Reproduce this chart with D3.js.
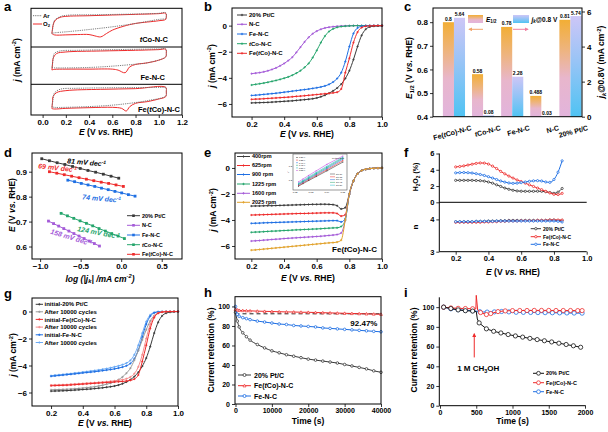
<!DOCTYPE html>
<html><head><meta charset="utf-8">
<script src="https://cdn.jsdelivr.net/npm/d3@7/dist/d3.min.js"></script>
<style>html,body{margin:0;padding:0;background:#fff}svg{display:block}</style>
</head><body>
<svg id="fig" width="608" height="432" xmlns="http://www.w3.org/2000/svg"></svg>
<script>
// ================= DATA =================
// (a) CV loops (potential V, current in arbitrary units of each sub-panel)
const aNames = ['tCo-N-C','Fe-N-C','Fe(tCo)-N-C'];
const aTicks = [0.0,0.2,0.4,0.6,0.8,1.0,1.2];
const cvE_tCo_O2 = [0.08,0.085,0.09,0.11,0.15,0.2,0.4,0.6,0.8,1.0,1.06,1.065,1.06,1.0,0.8,0.7,0.6,0.55,0.5,0.45,0.4,0.3,0.2,0.1,0.08];
const cvJ_tCo_O2 = [-0.91,-0.2,0.39,1.17,1.59,1.75,1.85,1.96,2.06,2.17,2.22,1.6,1.28,1.07,0.65,0.23,-0.39,-0.91,-1.43,-1.28,-1.07,-1.07,-1.12,-1.12,-0.91];
const cvE_tCo_Ar = [0.08,0.09,0.1,0.15,0.2,0.5,1.0,1.06,1.065,1.06,1.0,0.8,0.6,0.4,0.2,0.1,0.08];
const cvJ_tCo_Ar = [-0.91,0.2,1.07,1.7,1.9,2.01,2.22,2.32,1.8,1.43,1.28,0.65,0.13,-0.29,-0.65,-0.81,-0.91];
const cvE_Fe_O2 = [0.08,0.085,0.09,0.12,0.2,0.5,0.8,1.0,1.06,1.065,1.06,1.0,0.9,0.8,0.75,0.71,0.65,0.6,0.4,0.2,0.1,0.08];
const cvJ_Fe_O2 = [-0.7,0.2,1.14,1.94,2.2,2.36,2.47,2.58,2.63,2.0,1.41,0.88,0.45,0.19,-0.19,-1.14,-0.72,-0.56,-0.56,-0.56,-0.6,-0.7];
const cvE_Fe_Ar = [0.08,0.09,0.1,0.15,0.3,1.0,1.06,1.065,1.06,0.9,0.8,0.6,0.4,0.1,0.08];
const cvJ_Fe_Ar = [-0.3,0.9,1.94,2.36,2.47,2.68,2.7,2.0,1.41,0.45,0.24,-0.08,-0.29,-0.35,-0.3];
const cvE_FeCo_O2 = [0.08,0.085,0.09,0.12,0.2,0.5,0.8,1.06,1.065,1.06,1.0,0.9,0.8,0.75,0.72,0.68,0.6,0.4,0.2,0.1,0.08];
const cvJ_FeCo_O2 = [-1.75,-0.5,0.59,1.37,1.76,2.02,2.15,2.41,1.5,0.59,0.13,-0.39,-0.72,-1.37,-2.22,-1.7,-1.5,-1.57,-1.7,-1.83,-1.75];
const cvE_FeCo_Ar = [0.08,0.09,0.1,0.15,0.3,1.05,1.06,1.065,1.06,0.9,0.7,0.5,0.2,0.1,0.08];
const cvJ_FeCo_Ar = [-1.4,0.0,1.24,2.02,2.22,2.41,2.42,1.6,0.72,-0.2,-0.85,-1.24,-1.5,-1.5,-1.4];

// shared potential grid for LSV curves (b, e, g)
const lsvE = [0.2,0.225,0.25,0.275,0.3,0.325,0.35,0.375,0.4,0.425,0.45,0.475,0.5,0.525,0.55,0.575,0.6,0.625,0.65,0.675,0.7,0.725,0.75,0.775,0.8,0.825,0.85,0.875,0.9,0.925,0.95,0.975,1.0];
const eTicks = [0.2,0.4,0.6,0.8,1.0];

// (b) LSV at 1600 rpm
const bNames = ['20% Pt/C','N-C','Fe-N-C','tCo-N-C','Fe(tCo)-N-C'];
const bPt   = [-5.92,-5.91,-5.9,-5.89,-5.88,-5.86,-5.84,-5.82,-5.8,-5.78,-5.76,-5.73,-5.7,-5.67,-5.64,-5.6,-5.54,-5.45,-5.33,-5.18,-5.0,-4.78,-4.48,-4.05,-3.45,-2.6,-1.6,-0.75,-0.28,-0.1,-0.04,-0.02,-0.01];
const bNC   = [-3.68,-3.64,-3.6,-3.54,-3.46,-3.36,-3.24,-3.08,-2.9,-2.68,-2.42,-2.05,-1.65,-1.25,-0.9,-0.62,-0.42,-0.28,-0.18,-0.12,-0.08,-0.05,-0.03,-0.02,-0.01,0,0,0,0,0,0,0,0];
const bFeNC = [-5.35,-5.33,-5.3,-5.27,-5.24,-5.21,-5.18,-5.14,-5.1,-5.06,-5.02,-4.98,-4.94,-4.9,-4.86,-4.81,-4.76,-4.7,-4.62,-4.5,-4.32,-4.05,-3.6,-2.75,-1.6,-0.6,-0.18,-0.05,-0.02,-0.01,0,0,0];
const btCo  = [-4.55,-4.5,-4.45,-4.4,-4.34,-4.27,-4.2,-4.12,-4.03,-3.93,-3.8,-3.64,-3.45,-3.2,-2.9,-2.45,-1.9,-1.3,-0.8,-0.45,-0.25,-0.13,-0.07,-0.04,-0.02,-0.01,0,0,0,0,0,0,0];
const bFeCo = [-5.65,-5.63,-5.62,-5.6,-5.58,-5.56,-5.54,-5.52,-5.5,-5.48,-5.45,-5.42,-5.4,-5.37,-5.34,-5.31,-5.28,-5.25,-5.22,-5.19,-5.15,-5.1,-4.85,-3.6,-2.5,-1.3,-0.5,-0.15,-0.05,-0.02,-0.01,0,0];
const bYTicks = [-6,-4,-2,0];

// (c) bars
const cCats = ['Fe(tCo)-N-C','tCo-N-C','Fe-N-C','N-C','20% Pt/C'];
const cE12 = [0.8,0.58,0.78,0.488,0.81];
const cJk  = [5.64,0.08,2.28,0.03,5.74];
const cLTicks = [0.4,0.5,0.6,0.7,0.8];
const cRTicks = [0,2,4,6];

// (d) Tafel
const dNames = ['20% Pt/C','N-C','Fe-N-C','tCo-N-C','Fe(tCo)-N-C'];
const dPtX = [-0.98,-0.885,-0.79,-0.695,-0.6,-0.505,-0.41,-0.315,-0.22,-0.125,-0.03];
const dPtY = [0.952,0.944,0.936,0.929,0.921,0.913,0.905,0.898,0.890,0.882,0.874];
const dNCX = [-0.897,-0.834,-0.771,-0.708,-0.645,-0.583,-0.520,-0.457,-0.394,-0.331,-0.268];
const dNCY = [0.702,0.692,0.682,0.672,0.662,0.652,0.642,0.632,0.622,0.612,0.602];
const dFeX = [-0.658,-0.575,-0.492,-0.409,-0.326,-0.243,-0.160,-0.077,0.006,0.089,0.171];
const dFeY = [0.866,0.860,0.853,0.847,0.841,0.834,0.828,0.821,0.815,0.808,0.802];
const dCoX = [-0.741,-0.663,-0.585,-0.507,-0.429,-0.351,-0.273,-0.195,-0.117,-0.039,0.040];
const dCoY = [0.733,0.723,0.713,0.703,0.693,0.683,0.672,0.662,0.652,0.642,0.632];
const dFeCoX = [-0.885,-0.794,-0.702,-0.611,-0.520,-0.429,-0.338,-0.246,-0.155,-0.064,0.027];
const dFeCoY = [0.900,0.894,0.888,0.882,0.876,0.870,0.864,0.858,0.853,0.847,0.841];
const dSlopes = ['81','158','74','124','69'];
const dXTicks = [-1.0,-0.5,0.0,0.5];
const dYTicks = [0.6,0.7,0.8,0.9];

// (e) rotating speeds
const eNames = ['400rpm','625rpm','900 rpm','1225 rpm','1600 rpm','2025 rpm'];
const e400  = [-2.93,-2.92,-2.92,-2.91,-2.9,-2.9,-2.89,-2.88,-2.87,-2.86,-2.85,-2.84,-2.83,-2.82,-2.81,-2.8,-2.8,-2.79,-2.79,-2.8,-2.82,-2.9,-3.15,-3.05,-2.0,-1.0,-0.45,-0.2,-0.1,-0.05,-0.02,-0.01,0];
const e625  = [-3.62,-3.61,-3.6,-3.59,-3.58,-3.57,-3.56,-3.55,-3.54,-3.53,-3.52,-3.51,-3.5,-3.5,-3.49,-3.48,-3.47,-3.46,-3.45,-3.45,-3.45,-3.5,-3.7,-3.6,-2.0,-1.0,-0.45,-0.2,-0.1,-0.05,-0.02,-0.01,0];
const e900  = [-4.26,-4.25,-4.24,-4.22,-4.21,-4.2,-4.19,-4.18,-4.17,-4.16,-4.15,-4.14,-4.13,-4.12,-4.11,-4.1,-4.09,-4.08,-4.07,-4.06,-4.05,-4.05,-4.15,-3.9,-2.0,-1.0,-0.45,-0.2,-0.1,-0.05,-0.02,-0.01,0];
const e1225 = [-4.95,-4.93,-4.92,-4.9,-4.88,-4.86,-4.85,-4.83,-4.81,-4.8,-4.78,-4.76,-4.75,-4.73,-4.72,-4.7,-4.69,-4.67,-4.65,-4.63,-4.61,-4.6,-4.5,-4.0,-2.0,-1.0,-0.45,-0.2,-0.1,-0.05,-0.02,-0.01,0];
const e1600 = [-5.62,-5.6,-5.58,-5.55,-5.53,-5.5,-5.48,-5.46,-5.43,-5.41,-5.39,-5.37,-5.35,-5.33,-5.31,-5.29,-5.27,-5.25,-5.22,-5.19,-5.16,-5.12,-5.0,-4.0,-2.0,-1.0,-0.45,-0.2,-0.1,-0.05,-0.02,-0.01,0];
const e2025 = [-6.32,-6.3,-6.27,-6.24,-6.21,-6.18,-6.15,-6.12,-6.09,-6.06,-6.03,-6.0,-5.97,-5.94,-5.91,-5.88,-5.85,-5.82,-5.79,-5.76,-5.74,-5.7,-5.55,-4.0,-2.0,-1.0,-0.45,-0.2,-0.1,-0.05,-0.02,-0.01,0];
// (e) inset K-L lines
const klX = [0.0222,0.025,0.0286,0.0333,0.04,0.05];
const kl1 = [0.160,0.178,0.200,0.228,0.268,0.330];
const kl2 = [0.165,0.183,0.206,0.235,0.276,0.340];
const kl3 = [0.170,0.189,0.212,0.242,0.284,0.350];
const kl4 = [0.175,0.194,0.218,0.249,0.292,0.358];
const kl5 = [0.181,0.200,0.225,0.256,0.300,0.364];
const kl6 = [0.190,0.210,0.236,0.268,0.314,0.372];
const klNames = ['0.30','0.35','0.40','0.45','0.50','0.55'];
const klTicks = [0.02,0.03,0.04,0.05];

// (f) RRDE
const fE = [0.2,0.225,0.25,0.275,0.3,0.325,0.35,0.375,0.4,0.425,0.45,0.475,0.5,0.525,0.55,0.575,0.6,0.625,0.65,0.675,0.7,0.725,0.75,0.775,0.8,0.825,0.85];
const fNames = ['20% Pt/C','Fe(tCo)-N-C','Fe-N-C'];
const fHPt   = [2.7,2.7,2.7,2.7,2.7,2.68,2.66,2.6,2.5,2.35,2.15,1.95,1.75,1.6,1.48,1.4,1.36,1.35,1.35,1.35,1.36,1.35,1.3,1.2,1.1,1.25,1.7];
const fHFeCo = [4.35,4.4,4.48,4.58,4.68,4.78,4.84,4.82,4.7,4.45,4.15,3.8,3.5,3.22,2.98,2.75,2.55,2.35,2.15,1.95,1.75,1.55,1.35,1.15,0.98,0.95,1.1];
const fHFe   = [3.62,3.65,3.66,3.64,3.6,3.52,3.42,3.3,3.15,2.98,2.8,2.62,2.48,2.38,2.33,2.35,2.42,2.5,2.58,2.64,2.66,2.62,2.5,2.45,2.8,3.7,5.1];
const fNPt   = [3.93,3.93,3.93,3.93,3.93,3.94,3.94,3.94,3.95,3.95,3.95,3.96,3.96,3.97,3.97,3.97,3.97,3.97,3.97,3.97,3.97,3.97,3.97,3.98,3.98,3.97,3.97];
const fNFeCo = [3.91,3.91,3.91,3.91,3.91,3.91,3.91,3.92,3.92,3.93,3.93,3.94,3.94,3.95,3.95,3.95,3.96,3.96,3.96,3.96,3.97,3.97,3.97,3.98,3.98,3.98,3.98];
const fNFe   = [3.93,3.93,3.93,3.93,3.93,3.94,3.94,3.94,3.94,3.94,3.95,3.95,3.95,3.95,3.95,3.95,3.95,3.95,3.95,3.95,3.95,3.95,3.95,3.95,3.95,3.94,3.92];
const fHTicks = [0,2,4,6];
const fNTicks = [3,4];

// (g) durability LSV
const gNames = ['initial-20% Pt/C','After 10000 cycles','initial-Fe(tCo)-N-C','After 10000 cycles','initial-Fe-N-C','After 10000 cycles'];
const gPtI   = [-5.9,-5.89,-5.88,-5.87,-5.86,-5.84,-5.82,-5.8,-5.78,-5.76,-5.74,-5.71,-5.68,-5.65,-5.61,-5.57,-5.52,-5.45,-5.35,-5.22,-5.05,-4.82,-4.5,-4.05,-3.45,-2.6,-1.6,-0.8,-0.32,-0.12,-0.05,-0.02,-0.01];
const gPtA   = [-5.8,-5.79,-5.78,-5.77,-5.76,-5.74,-5.72,-5.7,-5.67,-5.64,-5.61,-5.57,-5.52,-5.46,-5.39,-5.31,-5.2,-5.05,-4.85,-4.57,-4.2,-3.6,-2.9,-2.1,-1.35,-0.7,-0.3,-0.1,-0.04,-0.02,-0.01,0,0];
const gFeCoI = [-5.5,-5.49,-5.48,-5.47,-5.46,-5.44,-5.42,-5.4,-5.38,-5.36,-5.34,-5.32,-5.3,-5.28,-5.26,-5.24,-5.22,-5.2,-5.18,-5.15,-5.1,-5.0,-4.7,-3.7,-2.5,-1.25,-0.45,-0.13,-0.04,-0.01,0,0,0];
const gFeCoA = [-5.45,-5.44,-5.43,-5.42,-5.41,-5.39,-5.37,-5.35,-5.33,-5.31,-5.29,-5.27,-5.25,-5.23,-5.2,-5.17,-5.14,-5.1,-5.05,-4.98,-4.85,-4.6,-4.1,-3.2,-2.0,-0.95,-0.35,-0.1,-0.03,-0.01,0,0,0];
const gFeI   = [-4.8,-4.77,-4.74,-4.71,-4.68,-4.65,-4.62,-4.59,-4.55,-4.52,-4.49,-4.46,-4.42,-4.38,-4.34,-4.3,-4.25,-4.19,-4.12,-4.02,-3.85,-3.5,-2.85,-1.9,-0.95,-0.35,-0.1,-0.03,-0.01,0,0,0,0];
const gFeA   = [-4.75,-4.72,-4.69,-4.66,-4.63,-4.6,-4.56,-4.53,-4.49,-4.45,-4.41,-4.37,-4.33,-4.28,-4.23,-4.17,-4.1,-4.03,-3.94,-3.82,-3.62,-3.2,-2.5,-1.6,-0.75,-0.25,-0.07,-0.02,0,0,0,0,0];

// (h) chronoamperometry
const hNames = ['20% Pt/C','Fe(tCo)-N-C','Fe-N-C'];
const hT    = [0,500,1000,2000,3000,4000,6000,8000,10000,12000,14000,16000,18000,20000,22000,24000,26000,28000,30000,32000,34000,36000,38000,40000];
const hPt   = [94,85,79,73,69,65.5,61,57.5,54.5,52.5,50.5,49,47.5,46,45,44,43,42,40.5,39,37.5,36,34,32.5];
const hFeCo = [97,96.5,96,95.8,95.6,95.5,95.2,95,94.8,94.6,94.4,94.3,94.1,94,93.8,93.6,93.4,93.2,93,92.8,92.6,92.4,92.2,92];
const hFe   = [100,92,90,88.5,87.5,86.5,85,84,83,82,81.5,80.5,80,79.5,79,78,77.5,77,76.5,76,75.5,75,74.5,74];
const hRetention = 92.47;
const hXTicks = [0,10000,20000,30000,40000];
const retTicks = [0,20,40,60,80,100];

// (i) methanol tolerance
const iNames = ['20% Pt/C','Fe(tCo)-N-C','Fe-N-C'];
const iTPt   = [50,150,250,350,450,500,515,540,640,740,840,940,1040,1140,1240,1340,1440,1540,1640,1740,1840,1940];
const iPt    = [100,98.6,97.2,96.4,96,95.6,88,84,78,75.5,73.8,72.2,70.8,69.6,68.3,67.1,65.9,64.7,63.4,62.1,60.8,59.3];
const iTFeCo = [50,150,250,350,450,495,500,520,560,640,700,800,900,1000,1100,1200,1300,1400,1500,1600,1700,1800,1900,1960];
const iFeCo  = [100,99.2,98.8,98.6,98.4,98.2,112,97,94.5,92.5,93.5,95.5,96.2,96.5,96.6,96.6,96.7,96.7,96.7,96.6,96.6,96.6,96.5,96.5];
const iTFe   = [50,150,250,350,450,550,650,750,850,950,1050,1150,1250,1350,1450,1550,1650,1750,1850,1960];
const iFe    = [100,98.3,97.4,96.9,96.4,95.4,95,95.2,95.6,95.2,94.8,94.7,94.6,94.5,94.4,94.3,94.2,94.1,94,93.9];
const iInject = 500;
const iXTicks = [0,500,1000,1500,2000];

// ================= HELPERS =================
const FF = "'Liberation Sans', Arial, Helvetica, sans-serif";
const C = {k:'#3a3a3a', r:'#ee2b2b', b:'#1e6fe3', g:'#25a56c', p:'#a45bd8', o:'#e2a22b',
           kL:'#9a9a9a', rL:'#f58a8a', bL:'#6aaaf5', cy:'#22b8c8'};
const svg = d3.select('#fig').attr('font-family', FF);
const defs = svg.append('defs');

function rich(t, parts, fs){
  let shift = 0;
  parts.forEach(p => {
    const s = (typeof p === 'string') ? [p, ''] : p;
    const ts = t.append('tspan').text(s[0]);
    const f = s[1];
    let target = 0;
    if (f.includes('^')) target = -0.38*fs;
    else if (f.includes('_')) target = 0.22*fs;
    if (target !== shift) { ts.attr('dy', (target - shift).toFixed(2)); shift = target; }
    if (f.includes('^') || f.includes('_')) ts.attr('font-size', (fs*0.68).toFixed(2));
    if (f.includes('i')) ts.attr('font-style', 'italic');
  });
}
function txt(g, x, y, parts, fs, o = {}){
  const t = g.append('text').attr('x', x).attr('y', y).attr('font-size', fs)
    .attr('font-weight', o.weight || 'bold').attr('fill', o.fill || '#000')
    .attr('text-anchor', o.anchor || 'start').style('white-space', 'pre');
  if (o.italic) t.attr('font-style', 'italic');
  if (o.rot != null) t.attr('transform', `rotate(${o.rot},${x},${y})`);
  rich(t, typeof parts === 'string' ? [parts] : parts, fs);
  return t;
}
function tco(s){
  const segs = s.split('tCo'); const out = [];
  segs.forEach((seg, i) => { if (i > 0) { out.push(['t','i']); out.push('Co'); } if (seg) out.push(seg); });
  return out;
}
function styleAxis(a, fs){
  a.attr('font-family', FF).attr('font-size', fs).attr('font-weight', 'bold');
  a.select('.domain').remove();
  a.selectAll('.tick line').attr('stroke', '#000').attr('stroke-width', 0.8);
  a.selectAll('.tick text').attr('fill', '#000');
  return a;
}
function axisB(g, sc, y, vals, fmt, fs = 8){
  return styleAxis(g.append('g').attr('transform', `translate(0,${y})`)
    .call(d3.axisBottom(sc).tickValues(vals).tickFormat(fmt).tickSize(3).tickPadding(1)), fs);
}
function axisL(g, sc, x, vals, fmt, fs = 8){
  return styleAxis(g.append('g').attr('transform', `translate(${x},0)`)
    .call(d3.axisLeft(sc).tickValues(vals).tickFormat(fmt).tickSize(3).tickPadding(2)), fs);
}
function axisR(g, sc, x, vals, fmt, fs = 8){
  return styleAxis(g.append('g').attr('transform', `translate(${x},0)`)
    .call(d3.axisRight(sc).tickValues(vals).tickFormat(fmt).tickSize(3).tickPadding(2)), fs);
}
function frame(g, sx, sy){
  const [x0, x1] = sx.range(), [y1, y0] = sy.range();
  g.append('rect').attr('x', x0).attr('y', y0).attr('width', x1 - x0).attr('height', y1 - y0)
    .attr('fill', 'none').attr('stroke', '#000').attr('stroke-width', 1);
}
function marks(g, pts, type, color, s, fill){
  const m = g.append('g');
  pts.forEach(([x, y]) => {
    if (type === 'plus') m.append('path').attr('d', `M${x-s},${y}H${x+s}M${x},${y-s}V${y+s}`)
      .attr('stroke', color).attr('stroke-width', 0.8).attr('fill', 'none');
    else if (type === 'square') m.append('rect').attr('x', x-s).attr('y', y-s).attr('width', 2*s).attr('height', 2*s).attr('fill', color);
    else if (type === 'circle') m.append('circle').attr('cx', x).attr('cy', y).attr('r', s)
      .attr('fill', fill || '#fff').attr('stroke', color).attr('stroke-width', 0.8);
    else if (type === 'tri') m.append('path').attr('d', `M${x},${y-s}L${x+s},${y+s*0.8}L${x-s},${y+s*0.8}Z`)
      .attr('fill', fill || '#fff').attr('stroke', color).attr('stroke-width', 0.7);
  });
}
function plot(g, xs, ys, sx, sy, color, o = {}){
  const pts = xs.map((v, i) => [sx(v), sy(ys[i])]);
  g.append('path').attr('d', d3.line().curve(o.curve || d3.curveMonotoneX)(pts))
    .attr('fill', 'none').attr('stroke', color).attr('stroke-width', o.w || 1)
    .attr('stroke-dasharray', o.dash || null).attr('stroke-linejoin', 'round');
  if (o.marker) marks(g, pts.filter((p, i) => !(o.skip || []).includes(i)), o.marker, color, o.ms || 1.3, o.mfill);
}
function legRow(g, x1, x2, y, color, type, parts, fs, o = {}){
  g.append('line').attr('x1', x1).attr('x2', x2).attr('y1', y).attr('y2', y)
    .attr('stroke', color).attr('stroke-width', o.w || 1).attr('stroke-dasharray', o.dash || null);
  if (type) marks(g, [[(x1 + x2)/2, y]], type, color, o.ms || 1.4, o.mfill);
  txt(g, x2 + (o.gap || 2), y + fs*0.36, parts, fs);
}
function arrowDef(id, color){
  defs.append('marker').attr('id', id).attr('viewBox', '0 0 10 10').attr('refX', 8).attr('refY', 5)
    .attr('markerWidth', 4).attr('markerHeight', 4).attr('orient', 'auto-start-reverse')
    .append('path').attr('d', 'M0,0L10,5L0,10z').attr('fill', color);
}
arrowDef('arrO', '#f2a46a'); arrowDef('arrP', '#f07fa0'); arrowDef('arrR', C.r);
function panelLabel(x, y, s){ txt(svg, x, y, s, 13); }
const yTitleE = [['E','i'],' (V ',['vs.','i'],' RHE)'];
const jTitle = [['j','i'],' (mA cm',['-2','^'],')'];
const f1 = d3.format('.1f'), fd = d3.format('d');

// ================= (a) =================
{
  const g = svg.append('g');
  const x = d3.scaleLinear().domain([-0.1, 1.2]).range([31, 182]);
  const bands = [[8.3, 47], [47, 84.3], [84.3, 115]];
  const sets = [[cvE_tCo_Ar, cvJ_tCo_Ar, cvE_tCo_O2, cvJ_tCo_O2],
                [cvE_Fe_Ar, cvJ_Fe_Ar, cvE_Fe_O2, cvJ_Fe_O2],
                [cvE_FeCo_Ar, cvJ_FeCo_Ar, cvE_FeCo_O2, cvJ_FeCo_O2]];
  const labY = [41.5, 80, 111.5], labX = [168, 165, 180];
  sets.forEach((s, i) => {
    const y = d3.scaleLinear().domain([-3, 3]).range([bands[i][1], bands[i][0]]);
    const cr = d3.curveCatmullRom.alpha(0.5);
    plot(g, s[2], s[3], x, y, C.r, {curve: cr, w: 1});
    plot(g, s[0], s[1], x, y, '#6e6e6e', {curve: cr, w: 0.9, dash: '1.2,1'});
    txt(g, labX[i], labY[i], tco(aNames[i]), 7.5, {anchor: 'end'});
    if (i > 0) g.append('line').attr('x1', 31).attr('x2', 182).attr('y1', bands[i][0]).attr('y2', bands[i][0]).attr('stroke', '#000');
  });
  frame(g, x, d3.scaleLinear().range([115, 8.3]));
  axisB(g, x, 115, aTicks, f1, 8);
  legRow(g, 33, 42, 15.7, '#6e6e6e', null, 'Ar', 6, {dash: '1.2,1', gap: 1});
  legRow(g, 33, 42, 24, C.r, null, ['O', ['2', '_']], 6, {gap: 1});
  txt(g, 19.5, 60, jTitle, 8.5, {anchor: 'middle', rot: -90});
  txt(g, 106, 135, yTitleE, 8.5, {anchor: 'middle'});
  panelLabel(4, 10.5, 'a');
}

// ================= (b) =================
{
  const g = svg.append('g');
  const x = d3.scaleLinear().domain([0.08, 1.0]).range([232, 382]);
  const y = d3.scaleLinear().domain([-7, 1.35]).range([117, 8]);
  const ser = [[bPt, C.k], [bNC, C.p], [bFeNC, C.b], [btCo, C.g], [bFeCo, C.r]];
  [1, 3, 2, 0, 4].forEach(i => plot(g, lsvE, ser[i][0], x, y, ser[i][1], {marker: 'plus', ms: 1.1}));
  frame(g, x, y);
  axisB(g, x, 117, eTicks, f1, 8);
  axisL(g, y, 232, bYTicks, fd, 8);
  const rows = [15, 24.3, 34, 43.7, 53.3];
  bNames.forEach((n, i) => legRow(g, 237, 247, rows[i], ser[i][1], 'plus', tco(n), 6, {ms: 1.2}));
  txt(g, 214.5, 66, jTitle, 8.5, {anchor: 'middle', rot: -90});
  txt(g, 307, 137, yTitleE, 8.5, {anchor: 'middle'});
  panelLabel(204, 10.5, 'b');
}

// ================= (c) =================
{
  const g = svg.append('g');
  const gE = defs.append('linearGradient').attr('id', 'gE').attr('x1', 0).attr('y1', 0).attr('x2', 0).attr('y2', 1);
  [[0, '#f2ae35'], [0.3, '#eeb47c'], [0.6, '#e8b6cc'], [1, '#e2b4dc']].forEach(s => gE.append('stop').attr('offset', s[0]).attr('stop-color', s[1]));
  const gJ = defs.append('linearGradient').attr('id', 'gJ').attr('x1', 0).attr('y1', 0).attr('x2', 0).attr('y2', 1);
  [[0, '#cdc6f7'], [0.45, '#98c4f6'], [1, '#4fc3f3']].forEach(s => gJ.append('stop').attr('offset', s[0]).attr('stop-color', s[1]));
  const xb = d3.scaleBand().domain(cCats).range([439.4, 585]).paddingInner(0.24).paddingOuter(0.12);
  const xs = d3.scaleBand().domain(['E', 'J']).range([0, xb.bandwidth()]);
  const yL = d3.scaleLinear().domain([0.4, 0.86]).range([116.7, 8]);
  const yR = d3.scaleLinear().domain([0, 6.2]).range([116.7, 8]);
  cCats.forEach((c, i) => {
    const xe = xb(c) + xs('E'), xj = xb(c) + xs('J'), w = xs.bandwidth();
    g.append('rect').attr('x', xe).attr('y', yL(cE12[i])).attr('width', w).attr('height', yL(0.4) - yL(cE12[i])).attr('fill', 'url(#gE)');
    g.append('rect').attr('x', xj).attr('y', yR(cJk[i])).attr('width', w).attr('height', Math.max(0.6, yR(0) - yR(cJk[i]))).attr('fill', 'url(#gJ)');
    txt(g, xe + w/2, yL(cE12[i]) - 1.5, String(cE12[i]), 5, {anchor: 'middle'});
    txt(g, xj + w/2, yR(cJk[i]) - 1.5, String(cJk[i]), 5, {anchor: 'middle'});
    txt(g, xb(c) + xb.bandwidth()/2 + 18, 130, tco(c), 7, {anchor: 'end', rot: -15});
  });
  g.append('rect').attr('x', 433).attr('y', 8).attr('width', 149).attr('height', 108.7).attr('fill', 'none').attr('stroke', '#000');
  axisL(g, yL, 433, cLTicks, f1, 8);
  axisR(g, yR, 582, cRTicks, fd, 8);
  // legend
  g.append('rect').attr('x', 468).attr('y', 15).attr('width', 15).attr('height', 8).attr('fill', 'url(#gE)');
  txt(g, 486, 21.5, [['E', 'i'], ['1/2', '_']], 6.5);
  g.append('rect').attr('x', 513).attr('y', 15).attr('width', 16).attr('height', 8).attr('fill', 'url(#gJ)');
  txt(g, 531.5, 21.5, [['j', 'i'], ['k', '_i'], '@0.8 V'], 6.5);
  g.append('line').attr('x1', 483).attr('x2', 469).attr('y1', 29.3).attr('y2', 29.3).attr('stroke', '#f2a46a').attr('marker-end', 'url(#arrO)');
  g.append('line').attr('x1', 513).attr('x2', 528).attr('y1', 29.3).attr('y2', 29.3).attr('stroke', '#f07fa0').attr('marker-end', 'url(#arrP)');
  txt(g, 412, 68, [['E', 'i'], ['1/2', '_'], ' (V ', ['vs.', 'i'], ' RHE)'], 8.5, {anchor: 'middle', rot: -90});
  txt(g, 604, 62, [['j', 'i'], ['k', '_i'], '@0.8V (mA cm', ['-2', '^'], ')'], 8.5, {anchor: 'middle', rot: -90});
  panelLabel(404, 10.5, 'c');
}

// ================= (d) =================
{
  const g = svg.append('g');
  const x = d3.scaleLinear().domain([-1.1, 0.75]).range([32, 182]);
  const y = d3.scaleLinear().domain([0.55, 0.975]).range([259, 153]);
  const ser = [[dPtX, dPtY, C.k], [dNCX, dNCY, C.p], [dFeX, dFeY, C.b], [dCoX, dCoY, C.g], [dFeCoX, dFeCoY, C.r]];
  ser.forEach(s => plot(g, s[0], s[1], x, y, s[2], {curve: d3.curveLinear, marker: 'square', ms: 1.4}));
  frame(g, x, y);
  axisB(g, x, 259, dXTicks, f1, 8);
  axisL(g, y, 32, dYTicks, f1, 8);
  const rows = [215.7, 225.3, 235, 244.7, 254.3];
  dNames.forEach((n, i) => legRow(g, 127, 140, rows[i], ser[i][2], 'square', tco(n), 5.5, {ms: 1.3}));
  const sl = (v) => [v + ' mV dec', ['-1', '^']];
  txt(g, 67, 163.2, sl(dSlopes[0]), 7, {rot: 5, italic: true});
  txt(g, 38, 168.3, sl(dSlopes[4]), 7, {rot: 6, italic: true, fill: C.r});
  txt(g, 82, 199.3, sl(dSlopes[2]), 7, {rot: 5, italic: true, fill: C.b});
  txt(g, 77, 231, sl(dSlopes[3]), 7, {rot: 11, italic: true, fill: C.g});
  txt(g, 50, 233.5, sl(dSlopes[1]), 7, {rot: 17, italic: true, fill: C.p});
  txt(g, 15, 205, yTitleE, 8.5, {anchor: 'middle', rot: -90});
  txt(g, 100, 281.5, [['log (|', 'i'], ['j', 'i'], ['k', '_i'], ['| /mA cm', 'i'], ['-2', '^i'], [')', 'i']], 8.5, {anchor: 'middle'});
  panelLabel(4, 157, 'd');
}

// ================= (e) =================
{
  const g = svg.append('g');
  const x = d3.scaleLinear().domain([0.1, 1.0]).range([235, 382]);
  const y = d3.scaleLinear().domain([-7, 1.15]).range([259, 153]);
  const ser = [[e400, C.k], [e625, C.r], [e900, C.b], [e1225, C.g], [e1600, C.p], [e2025, C.o]];
  ser.forEach(s => plot(g, lsvE, s[0], x, y, s[1], {marker: 'plus', ms: 1.1}));
  frame(g, x, y);
  axisB(g, x, 259, eTicks, f1, 8);
  axisL(g, y, 235, bYTicks, fd, 8);
  const rows = [156.5, 165.5, 174.5, 184, 193.3, 202.3];
  eNames.forEach((n, i) => legRow(g, 237, 250, rows[i], ser[i][1], 'plus', n, 5.5, {ms: 1.2}));
  // inset
  const ix = d3.scaleLinear().domain([0.02, 0.052]).range([295, 346]);
  const iy = d3.scaleLinear().domain([0.14, 0.38]).range([189, 155]);
  g.append('rect').attr('x', 293).attr('y', 154).attr('width', 54).attr('height', 36).attr('fill', '#fff').attr('stroke', '#555').attr('stroke-width', 0.6);
  const kls = [[kl1, C.k], [kl2, C.r], [kl3, C.b], [kl4, C.g], [kl5, C.cy], [kl6, '#c04fe0']];
  kls.forEach(s => plot(g, klX, s[0], ix, iy, s[1], {curve: d3.curveLinear, w: 0.6, marker: 'square', ms: 0.5}));
  klTicks.forEach(t => txt(g, ix(t), 193, String(t), 2.4, {anchor: 'middle', weight: 'normal'}));
  [0.2, 0.3].forEach(t => txt(g, 292, iy(t) + 0.8, String(t), 2.4, {anchor: 'end', weight: 'normal'}));
  klNames.forEach((n, i) => { marks(g, [[297, 157.5 + i*2.6]], 'square', kls[i][1], 0.5); txt(g, 299, 158.3 + i*2.6, n + ' V', 2.2, {weight: 'normal'}); });
  txt(g, 338, 159, tco('Fe(tCo)-N-C'), 2.2, {anchor: 'middle', weight: 'normal'});
  klNames.slice(0, 5).forEach((n, i) => { g.append('line').attr('x1', 330).attr('x2', 335).attr('y1', 174 + i*2.8).attr('y2', 174 + i*2.8).attr('stroke', kls[i][1]).attr('stroke-width', 0.5); txt(g, 336, 174.8 + i*2.8, 'fit ' + n, 2, {weight: 'normal'}); });
  txt(g, 289, 172, [['J', 'i'], ['-1', '^']], 2.4, {anchor: 'middle', rot: -90, weight: 'normal'});
  txt(g, 377, 252, tco('Fe(tCo)-N-C'), 8, {anchor: 'end'});
  txt(g, 216, 210, jTitle, 8.5, {anchor: 'middle', rot: -90});
  txt(g, 308, 280.5, yTitleE, 8.5, {anchor: 'middle'});
  panelLabel(204, 157, 'e');
}

// ================= (f) =================
{
  const g = svg.append('g');
  const x = d3.scaleLinear().domain([0.1, 1.0]).range([439.3, 586.7]);
  const yT = d3.scaleLinear().domain([0, 6]).range([202.3, 153.5]);
  const yB = d3.scaleLinear().domain([3, 4.53]).range([251.7, 202.3]);
  const cols = [C.k, C.r, C.b];
  [[fHPt, fNPt], [fHFeCo, fNFeCo], [fHFe, fNFe]].forEach((s, i) => {
    plot(g, fE, s[0], x, yT, cols[i], {marker: 'circle', ms: 1.1});
    plot(g, fE, s[1], x, yB, cols[i], {marker: 'circle', ms: 1.1});
  });
  g.append('line').attr('x1', 439.3).attr('x2', 439.3).attr('y1', 153.5).attr('y2', 251.7).attr('stroke', '#000');
  g.append('line').attr('x1', 439.3).attr('x2', 586.7).attr('y1', 202.3).attr('y2', 202.3).attr('stroke', '#000');
  g.append('line').attr('x1', 439.3).attr('x2', 586.7).attr('y1', 251.7).attr('y2', 251.7).attr('stroke', '#000');
  axisB(g, x, 251.7, eTicks, f1, 7.5);
  axisL(g, yT, 439.3, fHTicks, fd, 7.5);
  axisL(g, yB, 439.3, fNTicks, fd, 7.5);
  const rows = [228.7, 236.7, 244.3];
  fNames.forEach((n, i) => legRow(g, 530.7, 541, rows[i], cols[i], 'circle', tco(n), 5, {ms: 1.2}));
  txt(g, 418, 177, ['H', ['2', '_'], 'O', ['2', '_'], ' (%)'], 7, {anchor: 'middle', rot: -90});
  txt(g, 418, 227, 'n', 8, {anchor: 'middle', rot: -90});
  txt(g, 513, 275, yTitleE, 8.5, {anchor: 'middle'});
  panelLabel(404, 157, 'f');
}

// ================= (g) =================
{
  const g = svg.append('g');
  const x = d3.scaleLinear().domain([0.08, 1.0]).range([32, 178]);
  const y = d3.scaleLinear().domain([-7, 1]).range([406, 298]);
  const ser = [[gPtI, C.k], [gPtA, C.kL], [gFeCoI, C.r], [gFeCoA, C.rL], [gFeI, C.b], [gFeA, C.bL]];
  [5, 4, 1, 0, 3, 2].forEach(i => plot(g, lsvE, ser[i][0], x, y, ser[i][1], {marker: 'plus', ms: 1.1}));
  frame(g, x, y);
  axisB(g, x, 406, eTicks, f1, 8);
  axisL(g, y, 32, bYTicks, fd, 8);
  const rows = [304.3, 311.8, 319.4, 327.1, 334.8, 342.5];
  gNames.forEach((n, i) => legRow(g, 35.7, 43, rows[i], ser[i][1], 'plus', tco(n), 6, {ms: 1.2, gap: 1.5}));
  txt(g, 16, 355, jTitle, 8.5, {anchor: 'middle', rot: -90});
  txt(g, 105, 426, yTitleE, 8.5, {anchor: 'middle'});
  panelLabel(4, 298, 'g');
}

// ================= (h) =================
{
  const g = svg.append('g');
  const x = d3.scaleLinear().domain([0, 40000]).range([235.5, 381]);
  const y = d3.scaleLinear().domain([0, 110]).range([404, 296.7]);
  g.append('line').attr('x1', x(0)).attr('x2', x(40000)).attr('y1', y(hRetention)).attr('y2', y(hRetention))
    .attr('stroke', '#222').attr('stroke-dasharray', '4,3');
  plot(g, hT, hPt, x, y, C.k, {marker: 'circle', ms: 1.3});
  plot(g, hT, hFe, x, y, C.b, {marker: 'circle', ms: 1.3});
  plot(g, hT, hFeCo, x, y, C.r, {marker: 'tri', ms: 1.4});
  g.append('rect').attr('x', 235).attr('y', 296.7).attr('width', 146).attr('height', 107.3).attr('fill', 'none').attr('stroke', '#000');
  axisB(g, x, 404, hXTicks, fd, 7);
  axisL(g, y, 235, retTicks, fd, 7);
  txt(g, x(35300), y(hRetention) + 12, hRetention + '%', 8, {anchor: 'middle'});
  const rows = [375, 385.7, 396];
  const cols = [C.k, C.r, C.b], mk = ['circle', 'tri', 'circle'];
  hNames.forEach((n, i) => legRow(g, 238, 251, rows[i], cols[i], mk[i], tco(n), 7, {ms: 1.5, gap: 3}));
  txt(g, 214, 350, 'Current retention (%)', 8.5, {anchor: 'middle', rot: -90});
  txt(g, 308, 424, 'Time (s)', 8.5, {anchor: 'middle'});
  panelLabel(204, 297, 'h');
}

// ================= (i) =================
{
  const g = svg.append('g');
  const x = d3.scaleLinear().domain([0, 2000]).range([440, 585]);
  const y = d3.scaleLinear().domain([0, 110]).range([405.7, 297.3]);
  plot(g, iTFe, iFe, x, y, C.b, {marker: 'circle', ms: 2.1});
  plot(g, iTFeCo, iFeCo, x, y, C.r, {curve: d3.curveLinear, marker: 'circle', ms: 2.1, skip: [5, 6, 7]});
  plot(g, iTPt, iPt, x, y, '#111', {curve: d3.curveLinear, marker: 'circle', ms: 2.1, skip: [5, 6]});
  g.append('line').attr('x1', 439.3).attr('x2', 439.3).attr('y1', 297.3).attr('y2', 405.7).attr('stroke', '#000');
  g.append('line').attr('x1', 439.3).attr('x2', 585.7).attr('y1', 405.7).attr('y2', 405.7).attr('stroke', '#000');
  axisB(g, x, 405.7, iXTicks, fd, 7);
  axisL(g, y, 439.3, retTicks, fd, 7);
  g.append('line').attr('x1', x(iInject) - 2).attr('x2', x(iInject) - 2).attr('y1', y(49)).attr('y2', y(73))
    .attr('stroke', C.r).attr('stroke-width', 1).attr('marker-end', 'url(#arrR)');
  txt(g, x(iInject) + 2, y(40) + 5, ['1 M CH', ['3', '_'], 'OH'], 8, {anchor: 'middle'});
  const rows = [373.3, 382.7, 391.7];
  const cols = ['#111', C.r, C.b];
  iNames.forEach((n, i) => legRow(g, 533, 544, rows[i], cols[i], 'circle', tco(n), 5.5, {ms: 1.9, gap: 2}));
  txt(g, 417, 350, 'Current retention (%)', 8.5, {anchor: 'middle', rot: -90});
  txt(g, 512.5, 424, 'Time (s)', 8.5, {anchor: 'middle'});
  panelLabel(404, 297, 'i');
}
</script>
</body></html>
